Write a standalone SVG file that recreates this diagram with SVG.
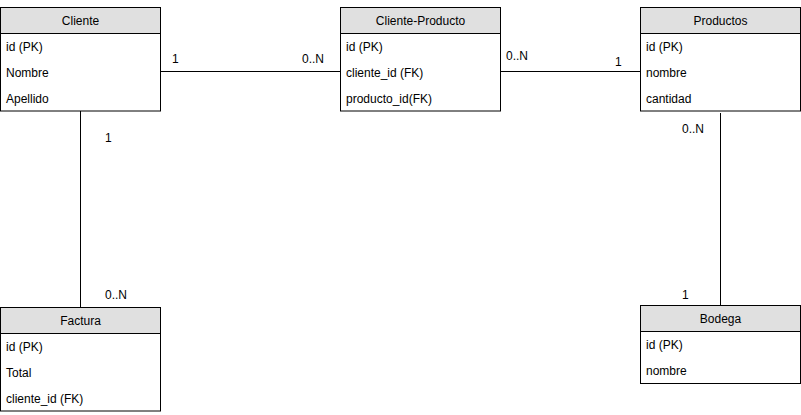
<svg xmlns="http://www.w3.org/2000/svg" width="801" height="415" viewBox="0 0 801 415">
<style>
text{font-family:"Liberation Sans",Arial,Helvetica,sans-serif;font-size:12px;fill:#000}
.box{fill:#fff;stroke:#000;stroke-width:1}
.hdr{fill:#e0e0e0;stroke:#000;stroke-width:1}
.t{text-anchor:middle}
.edge{stroke:#000;stroke-width:1;fill:none}
</style>
<rect width="801" height="415" fill="#fff"/>
<g id="connectors">
<path class="edge" d="M160.5 71.5H340.5"/>
<path class="edge" d="M500.5 71.5H640.5"/>
<path class="edge" d="M80.5 111V307.5"/>
<path class="edge" d="M720.5 113V305.5"/>
<text x="172" y="63">1</text>
<text x="302" y="63">0..N</text>
<text x="506" y="60">0..N</text>
<text x="615" y="66">1</text>
<text x="105" y="142">1</text>
<text x="105" y="299">0..N</text>
<text x="682" y="133">0..N</text>
<text x="682" y="299">1</text>
</g>
<g id="cliente">
<rect class="box" x="0.5" y="7.5" width="160" height="103.5"/>
<rect class="hdr" x="0.5" y="7.5" width="160" height="26"/>
<text class="t" x="80.5" y="25">Cliente</text>
<text x="6" y="51">id (PK)</text>
<text x="6" y="77">Nombre</text>
<text x="6" y="103">Apellido</text>
</g>
<g id="cliente-producto">
<rect class="box" x="340.5" y="7.5" width="160" height="103.5"/>
<rect class="hdr" x="340.5" y="7.5" width="160" height="26"/>
<text class="t" x="420.5" y="25">Cliente-Producto</text>
<text x="346" y="51">id (PK)</text>
<text x="346" y="77">cliente_id (FK)</text>
<text x="346" y="103">producto_id(FK)</text>
</g>
<g id="productos">
<rect class="box" x="640.5" y="7.5" width="160" height="103.5"/>
<rect class="hdr" x="640.5" y="7.5" width="160" height="26"/>
<text class="t" x="720.5" y="25">Productos</text>
<text x="646" y="51">id (PK)</text>
<text x="646" y="77">nombre</text>
<text x="646" y="103">cantidad</text>
</g>
<g id="factura">
<rect class="box" x="0.5" y="307.5" width="160" height="103.5"/>
<rect class="hdr" x="0.5" y="307.5" width="160" height="26"/>
<text class="t" x="80.5" y="325">Factura</text>
<text x="6" y="351">id (PK)</text>
<text x="6" y="377">Total</text>
<text x="6" y="403">cliente_id (FK)</text>
</g>
<g id="bodega">
<rect class="box" x="640.5" y="305.5" width="160" height="78"/>
<rect class="hdr" x="640.5" y="305.5" width="160" height="26"/>
<text class="t" x="720.5" y="323">Bodega</text>
<text x="646" y="349">id (PK)</text>
<text x="646" y="375">nombre</text>
</g>
</svg>
